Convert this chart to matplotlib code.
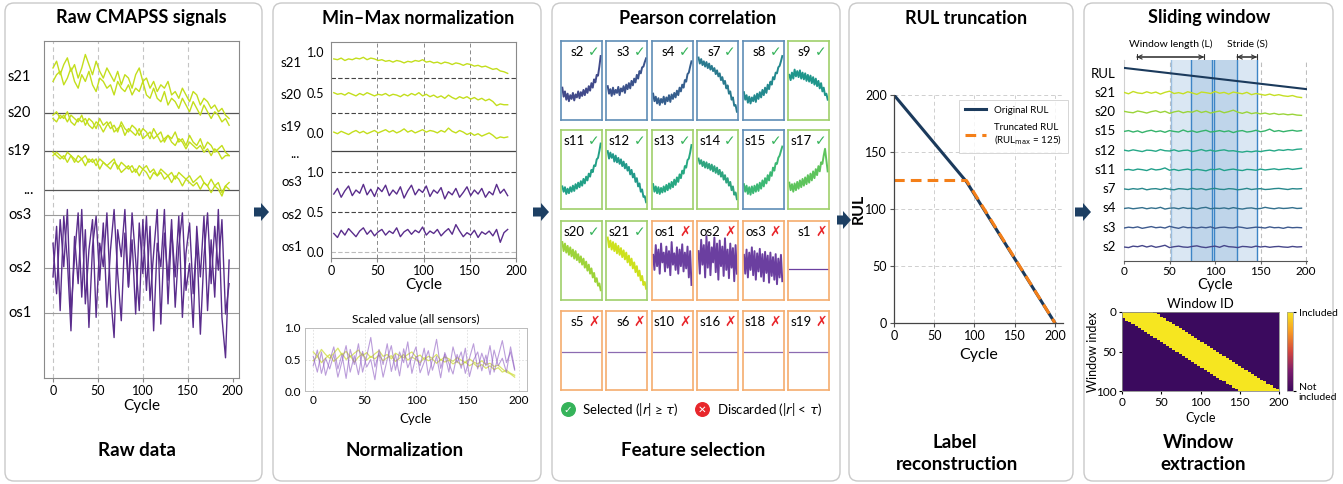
import numpy as np
import matplotlib
matplotlib.use('Agg')
import matplotlib.pyplot as plt
from matplotlib.patches import FancyBboxPatch, FancyArrow
from matplotlib.colors import LinearSegmentedColormap
import matplotlib.transforms as mtransforms

# ------------------------------------------------------------------ data
# Panel 1 : raw signals (display units of the stacked track axis)
raw_s21_a = [92,94,90,93,95,91,93,89,92,96,93,90,94,91,89,92,90,88,91,87,90,89,86,90,92,88,89,86,88,85,87,86,88,84,85,83,86,84,82,85,84,81,83,82,80,81,79,80,78,77]
raw_s21_b = [88,90,91,87,89,92,88,86,90,88,91,87,85,89,88,86,87,84,88,86,85,87,84,86,85,88,84,83,86,83,82,85,81,83,82,80,83,81,79,82,80,78,81,79,77,79,78,76,77,75]
raw_s20_a = [78,79,77,78,76,78,77,76,78,75,77,76,74,77,75,76,74,75,73,76,74,73,75,74,72,74,73,71,74,72,73,70,72,71,73,70,71,69,72,70,69,71,68,70,69,67,68,69,67,66]
raw_s20_b = [77,76,78,77,79,76,75,77,76,77,75,74,76,75,73,75,76,73,74,75,72,74,73,72,74,71,72,73,71,72,70,71,72,70,69,71,70,68,70,69,68,69,67,68,66,68,67,65,66,66]
raw_s19_a = [66,67,66,65,67,66,64,66,65,66,64,65,63,65,64,63,64,65,62,64,63,62,63,61,63,62,63,61,62,60,62,61,60,61,59,61,60,59,60,58,59,60,58,57,59,57,58,55,57,58]
raw_s19_b = [67,66,65,66,64,66,65,64,65,63,65,64,65,62,64,63,62,64,63,61,62,63,61,62,60,62,61,59,61,60,61,59,60,58,60,59,57,59,58,57,58,56,58,57,55,57,56,54,57,56]
raw_os_a = [30,45,20,48,35,14,42,28,50,22,38,47,18,40,33,49,25,12,44,36,50,27,41,19,46,31,48,23,37,50,16,43,29,47,21,39,49,26,34,15,45,30,48,20,41,24,50,18,6,35]
raw_os_b = [40,25,47,33,50,19,36,49,24,44,15,39,48,29,46,21,38,50,31,17,43,27,49,35,20,47,26,45,14,40,33,50,22,44,30,48,18,37,46,25,41,13,36,49,28,45,32,47,19,28]
raw_labels = ['s21', 's20', 's19', '...', 'os3', 'os2', 'os1']

# Panel 2 : min-max normalised signals
norm_s21 = [0.92,0.91,0.93,0.90,0.92,0.91,0.93,0.92,0.94,0.91,0.93,0.92,0.90,0.91,0.89,0.90,0.88,0.90,0.89,0.87,0.89,0.88,0.90,0.89,0.91,0.88,0.89,0.87,0.88,0.86,0.88,0.87,0.85,0.87,0.86,0.84,0.86,0.85,0.83,0.84,0.82,0.83,0.81,0.79,0.80,0.77,0.76,0.74]
norm_s20 = [0.50,0.48,0.49,0.47,0.50,0.48,0.46,0.49,0.47,0.50,0.48,0.46,0.48,0.47,0.49,0.46,0.48,0.47,0.45,0.48,0.46,0.49,0.47,0.50,0.46,0.48,0.45,0.47,0.44,0.46,0.43,0.47,0.44,0.42,0.45,0.43,0.45,0.42,0.44,0.41,0.43,0.40,0.42,0.39,0.34,0.36,0.35,0.35]
norm_s19 = [0.01,-0.01,0.02,0.00,-0.02,0.01,0.03,0.00,0.02,-0.01,0.01,0.03,0.00,0.02,0.04,0.01,0.03,0.00,0.02,0.05,0.01,0.03,0.00,0.02,0.04,0.01,0.03,0.02,0.00,0.03,0.01,0.06,0.02,0.00,0.03,0.01,-0.02,0.00,-0.03,-0.01,-0.04,-0.02,0.00,-0.03,-0.07,-0.05,-0.06,-0.05]
norm_os3 = [0.72,0.79,0.68,0.76,0.82,0.70,0.77,0.73,0.84,0.71,0.78,0.69,0.80,0.75,0.83,0.70,0.77,0.72,0.81,0.67,0.76,0.83,0.71,0.78,0.74,0.82,0.69,0.77,0.73,0.80,0.66,0.75,0.71,0.79,0.68,0.74,0.81,0.70,0.77,0.72,0.79,0.68,0.75,0.71,0.84,0.73,0.78,0.70]
norm_os2 = [0.23,0.18,0.27,0.21,0.29,0.24,0.19,0.26,0.30,0.22,0.27,0.20,0.25,0.28,0.21,0.26,0.23,0.30,0.19,0.25,0.28,0.22,0.27,0.24,0.31,0.21,0.26,0.23,0.28,0.20,0.25,0.29,0.22,0.34,0.26,0.19,0.24,0.21,0.27,0.18,0.25,0.22,0.26,0.20,0.28,0.12,0.24,0.28]
norm_labels = ['s21', 's20', 's19', '...', 'os3', 'os2', 'os1']

all_yellow_1 = [0.62,0.55,0.66,0.58,0.52,0.60,0.68,0.57,0.63,0.54,0.60,0.65,0.56,0.61,0.53,0.59,0.64,0.55,0.58,0.51,0.60,0.56,0.53,0.58,0.62,0.54,0.57,0.50,0.55,0.52,0.58,0.49,0.54,0.51,0.47,0.53,0.49,0.45,0.51,0.46,0.43,0.48,0.42,0.44,0.39,0.41,0.35,0.30,0.27,0.22]
all_yellow_2 = [0.48,0.55,0.45,0.52,0.58,0.47,0.53,0.60,0.50,0.56,0.46,0.54,0.59,0.49,0.55,0.51,0.57,0.48,0.53,0.56,0.47,0.52,0.58,0.49,0.54,0.50,0.45,0.53,0.48,0.51,0.44,0.50,0.46,0.49,0.43,0.47,0.41,0.46,0.40,0.44,0.38,0.42,0.36,0.40,0.34,0.37,0.30,0.33,0.28,0.25]
all_purple_1 = [0.55,0.30,0.62,0.25,0.48,0.70,0.35,0.58,0.20,0.66,0.42,0.75,0.30,0.55,0.85,0.38,0.60,0.22,0.50,0.72,0.33,0.62,0.45,0.78,0.28,0.55,0.40,0.68,0.25,0.50,0.82,0.36,0.58,0.30,0.70,0.45,0.62,0.28,0.52,0.75,0.35,0.60,0.40,0.72,0.30,0.55,0.80,0.45,0.62,0.33]
all_purple_2 = [0.40,0.65,0.28,0.52,0.35,0.58,0.22,0.47,0.72,0.30,0.56,0.26,0.63,0.38,0.50,0.18,0.66,0.42,0.75,0.31,0.58,0.24,0.67,0.37,0.53,0.70,0.29,0.46,0.64,0.33,0.55,0.21,0.61,0.44,0.27,0.58,0.36,0.68,0.23,0.49,0.62,0.32,0.57,0.26,0.65,0.40,0.52,0.30,0.70,0.35]

# Panel 3 : per-sensor thumbnails (scaled 0..1)
pc_s2  = [0.38,0.26,0.33,0.22,0.30,0.20,0.28,0.23,0.31,0.21,0.29,0.25,0.33,0.24,0.32,0.27,0.35,0.28,0.37,0.31,0.40,0.34,0.44,0.38,0.49,0.45,0.55,0.54,0.66,0.80]
pc_s3  = [0.40,0.30,0.36,0.27,0.38,0.29,0.35,0.31,0.39,0.28,0.37,0.33,0.40,0.31,0.42,0.36,0.44,0.37,0.47,0.41,0.50,0.45,0.55,0.50,0.60,0.57,0.65,0.66,0.72,0.77]
pc_s4  = [0.30,0.20,0.26,0.17,0.24,0.15,0.23,0.18,0.26,0.16,0.25,0.20,0.28,0.19,0.29,0.23,0.31,0.25,0.34,0.28,0.38,0.33,0.42,0.38,0.48,0.46,0.56,0.58,0.66,0.73]
pc_s7  = [0.78,0.70,0.76,0.68,0.73,0.66,0.72,0.64,0.70,0.62,0.67,0.60,0.64,0.56,0.61,0.53,0.57,0.48,0.52,0.43,0.47,0.37,0.41,0.30,0.33,0.22,0.25,0.14,0.15,0.06]
pc_s8  = [0.32,0.22,0.28,0.18,0.26,0.17,0.25,0.20,0.28,0.19,0.30,0.23,0.32,0.25,0.35,0.28,0.38,0.31,0.42,0.36,0.46,0.42,0.52,0.49,0.58,0.57,0.65,0.67,0.73,0.80]
pc_s9  = [0.55,0.48,0.58,0.50,0.62,0.53,0.60,0.52,0.61,0.50,0.58,0.49,0.57,0.47,0.55,0.46,0.54,0.44,0.52,0.42,0.50,0.40,0.47,0.37,0.44,0.33,0.38,0.28,0.30,0.22]
pc_s11 = [0.25,0.18,0.24,0.15,0.22,0.16,0.24,0.18,0.26,0.19,0.28,0.22,0.30,0.24,0.32,0.26,0.35,0.29,0.38,0.33,0.42,0.38,0.47,0.44,0.53,0.52,0.61,0.63,0.72,0.82]
pc_s12 = [0.72,0.62,0.70,0.63,0.68,0.58,0.66,0.57,0.63,0.55,0.61,0.52,0.58,0.49,0.55,0.46,0.51,0.41,0.47,0.37,0.42,0.31,0.36,0.25,0.29,0.18,0.21,0.11,0.12,0.04]
pc_s13 = [0.28,0.18,0.25,0.16,0.24,0.15,0.23,0.17,0.25,0.18,0.27,0.20,0.29,0.22,0.31,0.24,0.34,0.27,0.37,0.31,0.41,0.36,0.46,0.42,0.52,0.50,0.60,0.62,0.70,0.80]
pc_s14 = [0.62,0.55,0.60,0.52,0.58,0.50,0.57,0.49,0.55,0.47,0.54,0.45,0.52,0.43,0.50,0.41,0.47,0.38,0.44,0.34,0.40,0.30,0.36,0.26,0.31,0.20,0.25,0.14,0.17,0.08]
pc_s15 = [0.28,0.18,0.26,0.15,0.24,0.14,0.25,0.16,0.26,0.18,0.28,0.19,0.30,0.22,0.33,0.25,0.36,0.29,0.40,0.33,0.44,0.39,0.50,0.46,0.56,0.55,0.63,0.66,0.72,0.78]
pc_s17 = [0.30,0.20,0.28,0.18,0.29,0.20,0.31,0.22,0.33,0.24,0.35,0.26,0.37,0.28,0.40,0.30,0.42,0.33,0.45,0.36,0.48,0.40,0.52,0.45,0.57,0.55,0.66,0.75,0.60,0.45]
pc_s20 = [0.72,0.60,0.70,0.58,0.67,0.55,0.65,0.53,0.62,0.50,0.60,0.48,0.56,0.45,0.53,0.42,0.50,0.38,0.46,0.34,0.42,0.30,0.37,0.25,0.31,0.19,0.24,0.14,0.17,0.08]
pc_s21 = [0.78,0.65,0.74,0.62,0.72,0.60,0.70,0.57,0.67,0.55,0.64,0.52,0.61,0.49,0.58,0.45,0.54,0.41,0.50,0.37,0.45,0.32,0.40,0.27,0.34,0.21,0.27,0.15,0.19,0.10]
pc_os1 = [0.55,0.35,0.68,0.40,0.62,0.30,0.70,0.45,0.58,0.33,0.66,0.38,0.60,0.28,0.72,0.42,0.57,0.35,0.65,0.30,0.62,0.40,0.69,0.33,0.58,0.37,0.66,0.25,0.60,0.15]
pc_os2 = [0.60,0.30,0.75,0.42,0.68,0.25,0.80,0.38,0.72,0.28,0.65,0.45,0.78,0.32,0.70,0.22,0.74,0.40,0.66,0.27,0.77,0.35,0.62,0.24,0.70,0.38,0.64,0.20,0.68,0.30]
pc_os3 = [0.55,0.30,0.62,0.25,0.58,0.35,0.65,0.28,0.60,0.22,0.57,0.33,0.63,0.26,0.56,0.20,0.59,0.31,0.54,0.18,0.58,0.27,0.52,0.22,0.56,0.16,0.50,0.25,0.55,0.20]
pc_s1  = [0.36, 0.36]
pc_flat = [0.45, 0.45]

# Panel 4 : RUL labels
rul_cycles = [0, 90, 200]
rul_original = [200, 124, 0]
rul_truncated = [125, 125, 0]

# Panel 5 : sliding window tracks (deviation around each track)
sw_tracks = ['s2', 's3', 's4', 's7', 's11', 's12', 's15', 's20', 's21']
sw_s21 = [0.02,-0.03,0.05,0.00,-0.02,0.04,-0.01,0.03,-0.04,0.02,0.06,-0.02,0.01,-0.03,0.04,0.00,-0.05,0.03,0.01,-0.02,0.05,-0.01,0.02,-0.04,0.03,0.00,-0.03,0.02,-0.06,-0.02,-0.05,-0.08,-0.04,-0.09,-0.06,-0.10,-0.12,-0.09,-0.14,-0.16]
sw_s20 = [0.03,0.00,-0.02,0.04,0.01,-0.03,0.02,0.05,-0.01,0.03,-0.04,0.01,0.04,-0.02,0.02,0.00,0.06,-0.01,0.03,-0.03,0.01,0.04,-0.02,0.02,0.07,0.00,-0.04,0.01,-0.05,-0.02,-0.06,-0.03,-0.07,-0.04,-0.08,-0.06,-0.09,-0.07,-0.10,-0.11]
sw_s15 = [0.00,0.03,-0.02,0.02,-0.04,0.01,0.04,-0.01,0.02,-0.03,0.03,0.00,-0.02,0.05,-0.01,0.02,-0.03,0.01,0.04,-0.02,0.00,0.03,-0.01,0.02,-0.04,0.01,0.03,-0.02,0.00,0.04,-0.01,0.02,0.08,0.00,0.03,-0.01,0.02,0.04,0.01,0.03]
sw_s12 = [0.02,-0.01,0.03,0.00,-0.03,0.02,0.01,-0.02,0.04,0.00,-0.01,0.03,-0.02,0.01,0.02,-0.03,0.00,0.04,-0.01,0.02,-0.02,0.01,0.03,-0.01,0.00,-0.03,-0.05,-0.02,-0.04,-0.01,-0.03,0.00,0.02,-0.01,0.03,0.01,0.04,0.02,0.05,0.06]
sw_s11 = [0.00,0.02,-0.01,0.03,0.01,-0.02,0.04,0.00,0.02,0.07,-0.01,0.02,-0.02,0.01,0.03,-0.01,0.02,0.00,-0.03,0.02,0.01,0.04,-0.02,0.01,0.03,0.00,-0.02,0.02,0.01,-0.01,0.03,0.00,0.02,0.04,0.01,0.03,0.05,0.02,0.04,0.06]
sw_s7  = [0.01,-0.01,0.02,0.00,0.03,-0.02,0.01,0.02,-0.01,0.03,0.00,-0.02,0.02,0.01,-0.01,0.03,0.00,0.02,-0.02,0.01,0.03,0.00,-0.01,0.02,0.01,-0.02,0.00,0.03,-0.01,0.01,0.02,-0.01,0.00,0.02,0.03,0.01,-0.01,0.02,0.01,0.02]
sw_s4  = [0.00,0.02,-0.01,0.01,0.03,-0.01,0.02,0.00,0.04,-0.02,0.01,0.02,-0.01,0.03,0.00,0.01,-0.02,0.02,0.04,-0.01,0.01,0.00,0.02,-0.01,0.03,0.00,-0.02,0.01,0.02,-0.01,0.00,0.04,0.01,-0.01,0.02,0.00,0.01,0.03,0.00,0.01]
sw_s3  = [-0.01,0.02,0.00,0.03,-0.02,0.01,0.04,0.00,0.02,-0.01,0.05,0.01,-0.02,0.03,0.00,0.01,-0.01,0.02,0.00,0.03,-0.02,0.01,0.02,0.00,-0.01,0.03,0.01,-0.02,0.00,0.02,0.01,-0.01,0.03,0.00,0.01,-0.02,0.02,0.00,0.01,0.00]
sw_s2  = [0.00,-0.02,0.03,0.01,0.05,0.00,0.04,-0.01,0.02,0.06,-0.02,0.01,0.03,0.00,-0.01,0.02,0.04,0.00,-0.02,0.01,0.03,-0.01,0.05,0.01,0.00,-0.02,0.02,0.01,-0.01,0.03,0.00,0.02,-0.01,0.01,0.02,0.00,-0.01,0.02,0.00,0.01]
sw_rul = [200, 0]
sw_windows = [(52, 97), (74, 124), (99, 146)]
window_length_span = (14, 88)
stride_span = (124, 146)

# Window-membership matrix parameters
n_windows = 100
win_first_start = -12
win_step = 1.6
win_len = 52
cycle_bin = 4

# ------------------------------------------------------------------ figure
W, H = 1343, 484
plt.rcParams['font.family'] = ['Lato', 'DejaVu Sans']
fig = plt.figure(figsize=(W / 100, H / 100), dpi=100)
fig.patch.set_facecolor('white')


def rect(l, t, r, b):
    return [l / W, 1 - b / H, (r - l) / W, (b - t) / H]


def place_xlabel(ax, text, y_px, bottom_px, top_px, fs):
    ax.set_xlabel(text, fontsize=fs)
    ax.xaxis.set_label_coords(0.5, (bottom_px - y_px) / (bottom_px - top_px))
    ax.xaxis.label.set_va('center')


bg = fig.add_axes([0, 0, 1, 1])
bg.set_xlim(0, W)
bg.set_ylim(H, 0)
bg.axis('off')

panels = [(5, 3, 262, 481), (273, 3, 541, 481), (552, 3, 840, 481),
          (849, 3, 1073, 481), (1084, 3, 1333, 481)]
for (l, t, r, b) in panels:
    bg.add_patch(FancyBboxPatch((l, t), r - l, b - t,
                                boxstyle='round,pad=0,rounding_size=9',
                                fc='white', ec='#c9c9c9', lw=1.0))

NAVY = '#1d3f63'
for (x0, x1, yc) in [(254, 269, 212), (533, 549, 212), (837, 851, 220), (1075, 1091, 212)]:
    bg.add_patch(FancyArrow(x0, yc, x1 - x0, 0, width=9, head_width=18,
                            head_length=8, length_includes_head=True,
                            fc=NAVY, ec=NAVY, lw=0, zorder=10))

titles = [(141, 'Raw CMAPSS signals'), (418, 'Min–Max normalization'),
          (698, 'Pearson correlation'), (966, 'RUL truncation'), (1209, 'Sliding window')]
for x, s in titles:
    bg.text(x, 18, s, ha='center', va='center', fontsize=13, fontweight='bold')
bottoms = [(137, 451, 'Raw data'), (405, 451, 'Normalization'), (693, 451, 'Feature selection'),
           (955, 442, 'Label'), (957, 464, 'reconstruction'), (1199, 442, 'Window'), (1203, 464, 'extraction')]
for x, y, s in bottoms:
    bg.text(x, y, s, ha='center', va='center', fontsize=13.5, fontweight='bold')

YG = '#c3de1c'
PURP = '#5a2d8c'

# ------------------------------------------------------------------ panel 1
ax1 = fig.add_axes(rect(44, 41, 239, 378))
ax1.set_xlim(-10, 207)
ax1.set_ylim(0, 100)
raw_pos = [89.3, 78.6, 67.4, 55.8, 48.4, 32.6, 19.3]
for x in [0, 50, 100, 150]:
    ax1.axvline(x, color='#c4c4c4', lw=0.8, ls=(0, (4, 3)), zorder=0)
for y in raw_pos[1:4]:
    ax1.axhline(y, color='#555555', lw=0.9, zorder=0)
for y in raw_pos[4:]:
    ax1.axhline(y, color='#9a9a9a', lw=0.8, zorder=0)
rc = np.arange(len(raw_s21_a)) * 4
for arr in [raw_s21_a, raw_s21_b, raw_s20_a, raw_s20_b, raw_s19_a, raw_s19_b]:
    ax1.plot(rc[:len(arr)], arr, color=YG, lw=1.0)
for arr in [raw_os_a, raw_os_b]:
    ax1.plot(rc[:len(arr)], arr, color=PURP, lw=1.0)
ax1.set_yticks([])
ax1.set_xticks([0, 50, 100, 150, 200])
ax1.tick_params(axis='x', labelsize=9, length=3, color='#888', pad=2)
place_xlabel(ax1, 'Cycle', 406, 378, 41, 11)
for sp in ax1.spines.values():
    sp.set_color('#8a8a8a')
    sp.set_linewidth(0.8)
tr1 = mtransforms.blended_transform_factory(bg.transData, ax1.transData)
for y, s in zip(raw_pos, raw_labels):
    ax1.text(8 if s != '...' else 23, y, s, transform=tr1, ha='left', va='center', fontsize=10.5)

# ------------------------------------------------------------------ panel 2 top
ax2 = fig.add_axes(rect(331, 42, 516, 258))
ax2.set_xlim(0, 200)
ax2.set_ylim(-0.075, 2.61)
UP = 1.48
for x in [50, 100, 150]:
    ax2.axvline(x, color='#8a8a8a', lw=0.7, ls=(0, (4, 3)), zorder=0)
for y in [2.16, 1.73, 1.0, 0.5]:
    ax2.axhline(y, color='#444444', lw=0.8, ls=(0, (4, 2)), zorder=0)
ax2.axhline(1.255, color='#444444', lw=0.9, zorder=0)
ax2.axhline(0.0, color='#bbbbbb', lw=0.8, ls=(0, (4, 2)), zorder=0)
nc = 3 + np.arange(len(norm_s21)) * 4
for arr in [norm_s21, norm_s20, norm_s19]:
    ax2.plot(nc[:len(arr)], np.array(arr) + UP, color=YG, lw=1.0)
for arr in [norm_os3, norm_os2]:
    ax2.plot(nc[:len(arr)], arr, color=PURP, lw=1.0)
ax2.set_yticks([0, 0.5, 1.0, UP, UP + 0.5, UP + 1.0])
ax2.set_yticklabels(['0.0', '0.5', '1.0', '0.0', '0.5', '1.0'])
ax2.set_xticks([0, 50, 100, 150, 200])
ax2.tick_params(labelsize=9, length=0, pad=5)
ax2.tick_params(axis='x', length=3, color='#888', pad=2)
place_xlabel(ax2, 'Cycle', 285, 258, 42, 11)
for sp in ax2.spines.values():
    sp.set_color('#8a8a8a')
    sp.set_linewidth(0.8)
norm_pos = [UP + 0.87, UP + 0.47, UP + 0.07, 1.22, 0.87, 0.46, 0.06]
tr2 = mtransforms.blended_transform_factory(bg.transData, ax2.transData)
for y, s in zip(norm_pos, norm_labels):
    ax2.text(281 if s != '...' else 290, y, s, transform=tr2, ha='left', va='center', fontsize=9.5)

# ------------------------------------------------------------------ panel 2 bottom
ax2b = fig.add_axes(rect(305, 328, 527, 391))
ax2b.set_xlim(-8, 208)
ax2b.set_ylim(0, 1.0)
ac = np.arange(len(all_yellow_1)) * 4
ax2b.grid(True, color='#dddddd', lw=0.6, ls=(0, (2, 2)))
ax2b.set_axisbelow(True)
for arr in [all_yellow_1, all_yellow_2]:
    ax2b.plot(ac[:len(arr)], arr, color='#cddc39', lw=0.9, alpha=0.75)
for arr in [all_purple_1, all_purple_2]:
    ax2b.plot(ac[:len(arr)], arr, color='#8e5cc2', lw=0.8, alpha=0.6)
ax2b.set_yticks([0, 0.5, 1.0])
ax2b.set_yticklabels(['0.0', '0.5', '1.0'])
ax2b.set_xticks([0, 50, 100, 150, 200])
ax2b.tick_params(labelsize=8.5, length=0, pad=3)
ax2b.set_title('Scaled value (all sensors)', fontsize=8.5, pad=4)
place_xlabel(ax2b, 'Cycle', 419, 391, 328, 9.5)
for sp in ax2b.spines.values():
    sp.set_color('#bbbbbb')
    sp.set_linewidth(0.7)

# ------------------------------------------------------------------ panel 3
BLUE_B, GREEN_B, ORANGE_B = '#5f8db6', '#9fd06b', '#f5ad6e'
C_OK, C_BAD = '#35b35a', '#e8262b'
grid3 = [
    [('s2', pc_s2, '#414a8a', BLUE_B, True), ('s3', pc_s3, '#3b528b', BLUE_B, True),
     ('s4', pc_s4, '#355e8d', BLUE_B, True), ('s7', pc_s7, '#2a7a8e', BLUE_B, True),
     ('s8', pc_s8, '#23898e', BLUE_B, True), ('s9', pc_s9, '#1f968b', GREEN_B, True)],
    [('s11', pc_s11, '#22a087', GREEN_B, True), ('s12', pc_s12, '#23998a', GREEN_B, True),
     ('s13', pc_s13, '#27a882', GREEN_B, True), ('s14', pc_s14, '#2fa47f', GREEN_B, True),
     ('s15', pc_s15, '#3cb874', BLUE_B, True), ('s17', pc_s17, '#5ec45c', GREEN_B, True)],
    [('s20', pc_s20, '#9dd33a', GREEN_B, True), ('s21', pc_s21, '#cde11d', GREEN_B, True),
     ('os1', pc_os1, '#6b3fa0', ORANGE_B, False), ('os2', pc_os2, '#6b3fa0', ORANGE_B, False),
     ('os3', pc_os3, '#6b3fa0', ORANGE_B, False), ('s1', pc_s1, '#6b3fa0', ORANGE_B, False)],
    [('s5', pc_flat, '#8c6bb1', ORANGE_B, False), ('s6', pc_flat, '#8c6bb1', ORANGE_B, False),
     ('s10', pc_flat, '#8c6bb1', ORANGE_B, False), ('s16', pc_flat, '#8c6bb1', ORANGE_B, False),
     ('s18', pc_flat, '#8c6bb1', ORANGE_B, False), ('s19', pc_flat, '#8c6bb1', ORANGE_B, False)],
]
row_tops = [41, 130, 221, 311]
for ri, row in enumerate(grid3):
    for ci, (name, vals, col, bcol, ok) in enumerate(row):
        l = 561 + ci * 45.4
        t = row_tops[ri]
        ax = fig.add_axes(rect(l, t, l + 41, t + 79))
        ax.set_xlim(-1, 30)
        ax.set_ylim(-0.05, 1.0)
        ax.set_xticks([])
        ax.set_yticks([])
        for sp in ax.spines.values():
            sp.set_color(bcol)
            sp.set_linewidth(1.2)
        if len(vals) > 2:
            ax.plot(np.arange(len(vals)), vals, color=col, lw=1.4)
        else:
            ax.plot([0, 29], vals, color=col, lw=0.9)
        ax.text(0.57, 0.86, name, transform=ax.transAxes, ha='right', va='center', fontsize=9.5)
        ax.text(0.66, 0.86, '✓' if ok else '✗', transform=ax.transAxes, ha='left', va='center',
                fontsize=10, color=C_OK if ok else C_BAD, family='DejaVu Sans',
                fontweight='bold')

bg.scatter([568], [409], s=95, color=C_OK, zorder=5)
bg.text(568, 409.5, '✓', ha='center', va='center', color='white', fontsize=7.5,
        fontweight='bold', family='DejaVu Sans', zorder=6)
bg.text(582, 409, 'Selected (|$r$| ≥ $\\tau$)', ha='left', va='center', fontsize=9.5)
bg.scatter([702], [409], s=95, color=C_BAD, zorder=5)
bg.text(702, 409.5, '✕', ha='center', va='center', color='white', fontsize=7.5,
        fontweight='bold', family='DejaVu Sans', zorder=6)
bg.text(717, 409, 'Discarded (|$r$| < $\\tau$)', ha='left', va='center', fontsize=9.5)

# ------------------------------------------------------------------ panel 4
ax4 = fig.add_axes(rect(894, 95, 1063, 323))
ax4.set_xlim(0, 210)
ax4.set_ylim(0, 200)
ax4.grid(True, color='#cfcfcf', lw=0.7, ls=(0, (4, 3)))
ax4.set_axisbelow(True)
ax4.plot(rul_cycles, rul_original, color='#1b3a5c', lw=2.2, label='Original RUL')
ax4.plot(rul_cycles, rul_truncated, color='#f47f18', lw=2.2, ls=(0, (3.5, 2)),
         label='Truncated RUL\n(RUL$_{\\mathrm{max}}$ = 125)')
ax4.set_xticks([0, 50, 100, 150, 200])
ax4.set_yticks([0, 50, 100, 150, 200])
ax4.tick_params(labelsize=9, length=3, color='#555', pad=2)
ax4.spines['top'].set_visible(False)
ax4.spines['right'].set_visible(False)
for s in ['left', 'bottom']:
    ax4.spines[s].set_color('#444')
    ax4.spines[s].set_linewidth(0.9)
place_xlabel(ax4, 'Cycle', 355, 323, 95, 11.5)
ax4.set_ylabel('RUL', fontsize=11.5, fontweight='bold')
ax4.yaxis.set_label_coords((859 - 894) / 169, 0.5)
ax4.yaxis.label.set_va('center')
leg = ax4.legend(loc='upper right', bbox_to_anchor=((1068 - 894) / 169, (323 - 100) / 228),
                 borderaxespad=0, fontsize=7, frameon=True, handlelength=2.2,
                 borderpad=0.6, labelspacing=0.8, fancybox=False)
leg.get_frame().set_edgecolor('#cccccc')
leg.get_frame().set_linewidth(0.7)

# ------------------------------------------------------------------ panel 5 top
ax5 = fig.add_axes(rect(1124, 60, 1307, 261))
ax5.set_xlim(0, 201)
ax5.set_ylim(0.273, 10.71)
for x in [50, 150, 200]:
    ax5.axvline(x, color='#bdbdbd', lw=0.8, ls=(0, (4, 3)), zorder=0)
for i, (a, b) in enumerate(sw_windows):
    ax5.axvspan(a, b, color='#6fa3d2', alpha=0.25, lw=0, zorder=1)
    ax5.axvline(a, color='#3d85c6' if i else '#9cbfe0', lw=1.0, zorder=2)
    ax5.axvline(b, color='#3d85c6', lw=1.0, zorder=2)
sw_cols = ['#46468a', '#3e5a8e', '#33708d', '#28888c', '#21a08a', '#26a887', '#35b36b', '#9ad43a', '#c5df23']
sw_data = [sw_s2, sw_s3, sw_s4, sw_s7, sw_s11, sw_s12, sw_s15, sw_s20, sw_s21]
for k, (arr, col) in enumerate(zip(sw_data, sw_cols)):
    xs = np.arange(len(arr)) * 5
    ax5.plot(xs, np.array(arr) * 1.5 + (k + 1), color=col, lw=1.0, zorder=3)
ax5.plot([0, 200], 9.2 + np.array(sw_rul) / 200 * 1.1, color='#1b3a5c', lw=1.5, zorder=3)
ax5.set_yticks([])
ax5.set_xticks([0, 50, 100, 150, 200])
ax5.tick_params(axis='x', labelsize=8.5, length=2, color='#666', pad=1.5)
place_xlabel(ax5, 'Cycle', 285, 261, 60, 10.5)
ax5.spines['top'].set_visible(False)
ax5.spines['right'].set_visible(False)
ax5.spines['left'].set_color('#d0d0d0')
ax5.spines['bottom'].set_color('#555')
tr5 = mtransforms.blended_transform_factory(bg.transData, ax5.transData)
for k, s in enumerate(sw_tracks):
    ax5.text(1116, k + 1, s, transform=tr5, ha='right', va='center', fontsize=9.5)
ax5.text(1116, 10.0, 'RUL', transform=tr5, ha='right', va='center', fontsize=9.5)
tra = mtransforms.blended_transform_factory(ax5.transData, bg.transData)
for (a, b), lab in [(window_length_span, 'Window length (L)'), (stride_span, 'Stride (S)')]:
    bg.annotate('', xy=(a, 57), xytext=(b, 57), xycoords=tra, textcoords=tra,
                arrowprops=dict(arrowstyle='|-|,widthA=0.25,widthB=0.25', color='#333', lw=0.8,
                                shrinkA=0, shrinkB=0))
    bg.annotate('', xy=(a, 57), xytext=(b, 57), xycoords=tra, textcoords=tra,
                arrowprops=dict(arrowstyle='<->,head_length=0.3,head_width=0.15', color='#333', lw=0.8,
                                shrinkA=0, shrinkB=0))
    bg.text((a + b) / 2, 44, lab, transform=tra, ha='center', va='center', fontsize=7.5)

# ------------------------------------------------------------------ panel 5 heatmap
n_bins = 200 // cycle_bin
centers = (np.arange(n_bins) + 0.5) * cycle_bin
starts = win_first_start + win_step * np.arange(n_windows + 1)
mask = ((centers[None, :] >= starts[:, None]) & (centers[None, :] <= starts[:, None] + win_len)).astype(float)
cmap = LinearSegmentedColormap.from_list('win', ['#3b0a5e', '#7a1c6d', '#d2463f', '#f79a24', '#f6e620'])
axh = fig.add_axes(rect(1122, 312, 1279, 391))
im = axh.imshow(mask, aspect='auto', cmap=cmap, vmin=0, vmax=1, interpolation='nearest',
                extent=[0, 200, 100, 0])
axh.set_xticks([0, 50, 100, 150, 200])
axh.set_yticks([0, 50, 100])
axh.tick_params(labelsize=8.5, length=2, pad=2)
axh.set_title('Window ID', fontsize=9.5, pad=3)
place_xlabel(axh, 'Cycle', 418, 391, 312, 9)
axh.set_ylabel('Window index', fontsize=9)
axh.yaxis.set_label_coords((1093 - 1122) / 157, 0.5)
axh.yaxis.label.set_va('center')
for sp in axh.spines.values():
    sp.set_linewidth(0.6)
    sp.set_color('#888')
cax = fig.add_axes(rect(1287, 312, 1293, 391))
cb = fig.colorbar(im, cax=cax)
cb.set_ticks([0, 1])
cb.set_ticklabels(['Not\nincluded', 'Included'])
cb.ax.tick_params(labelsize=7.5, length=2, pad=2)
cb.outline.set_linewidth(0.5)
cb.outline.set_edgecolor('#999')

fig.savefig('out.png', dpi=100, facecolor='white')
